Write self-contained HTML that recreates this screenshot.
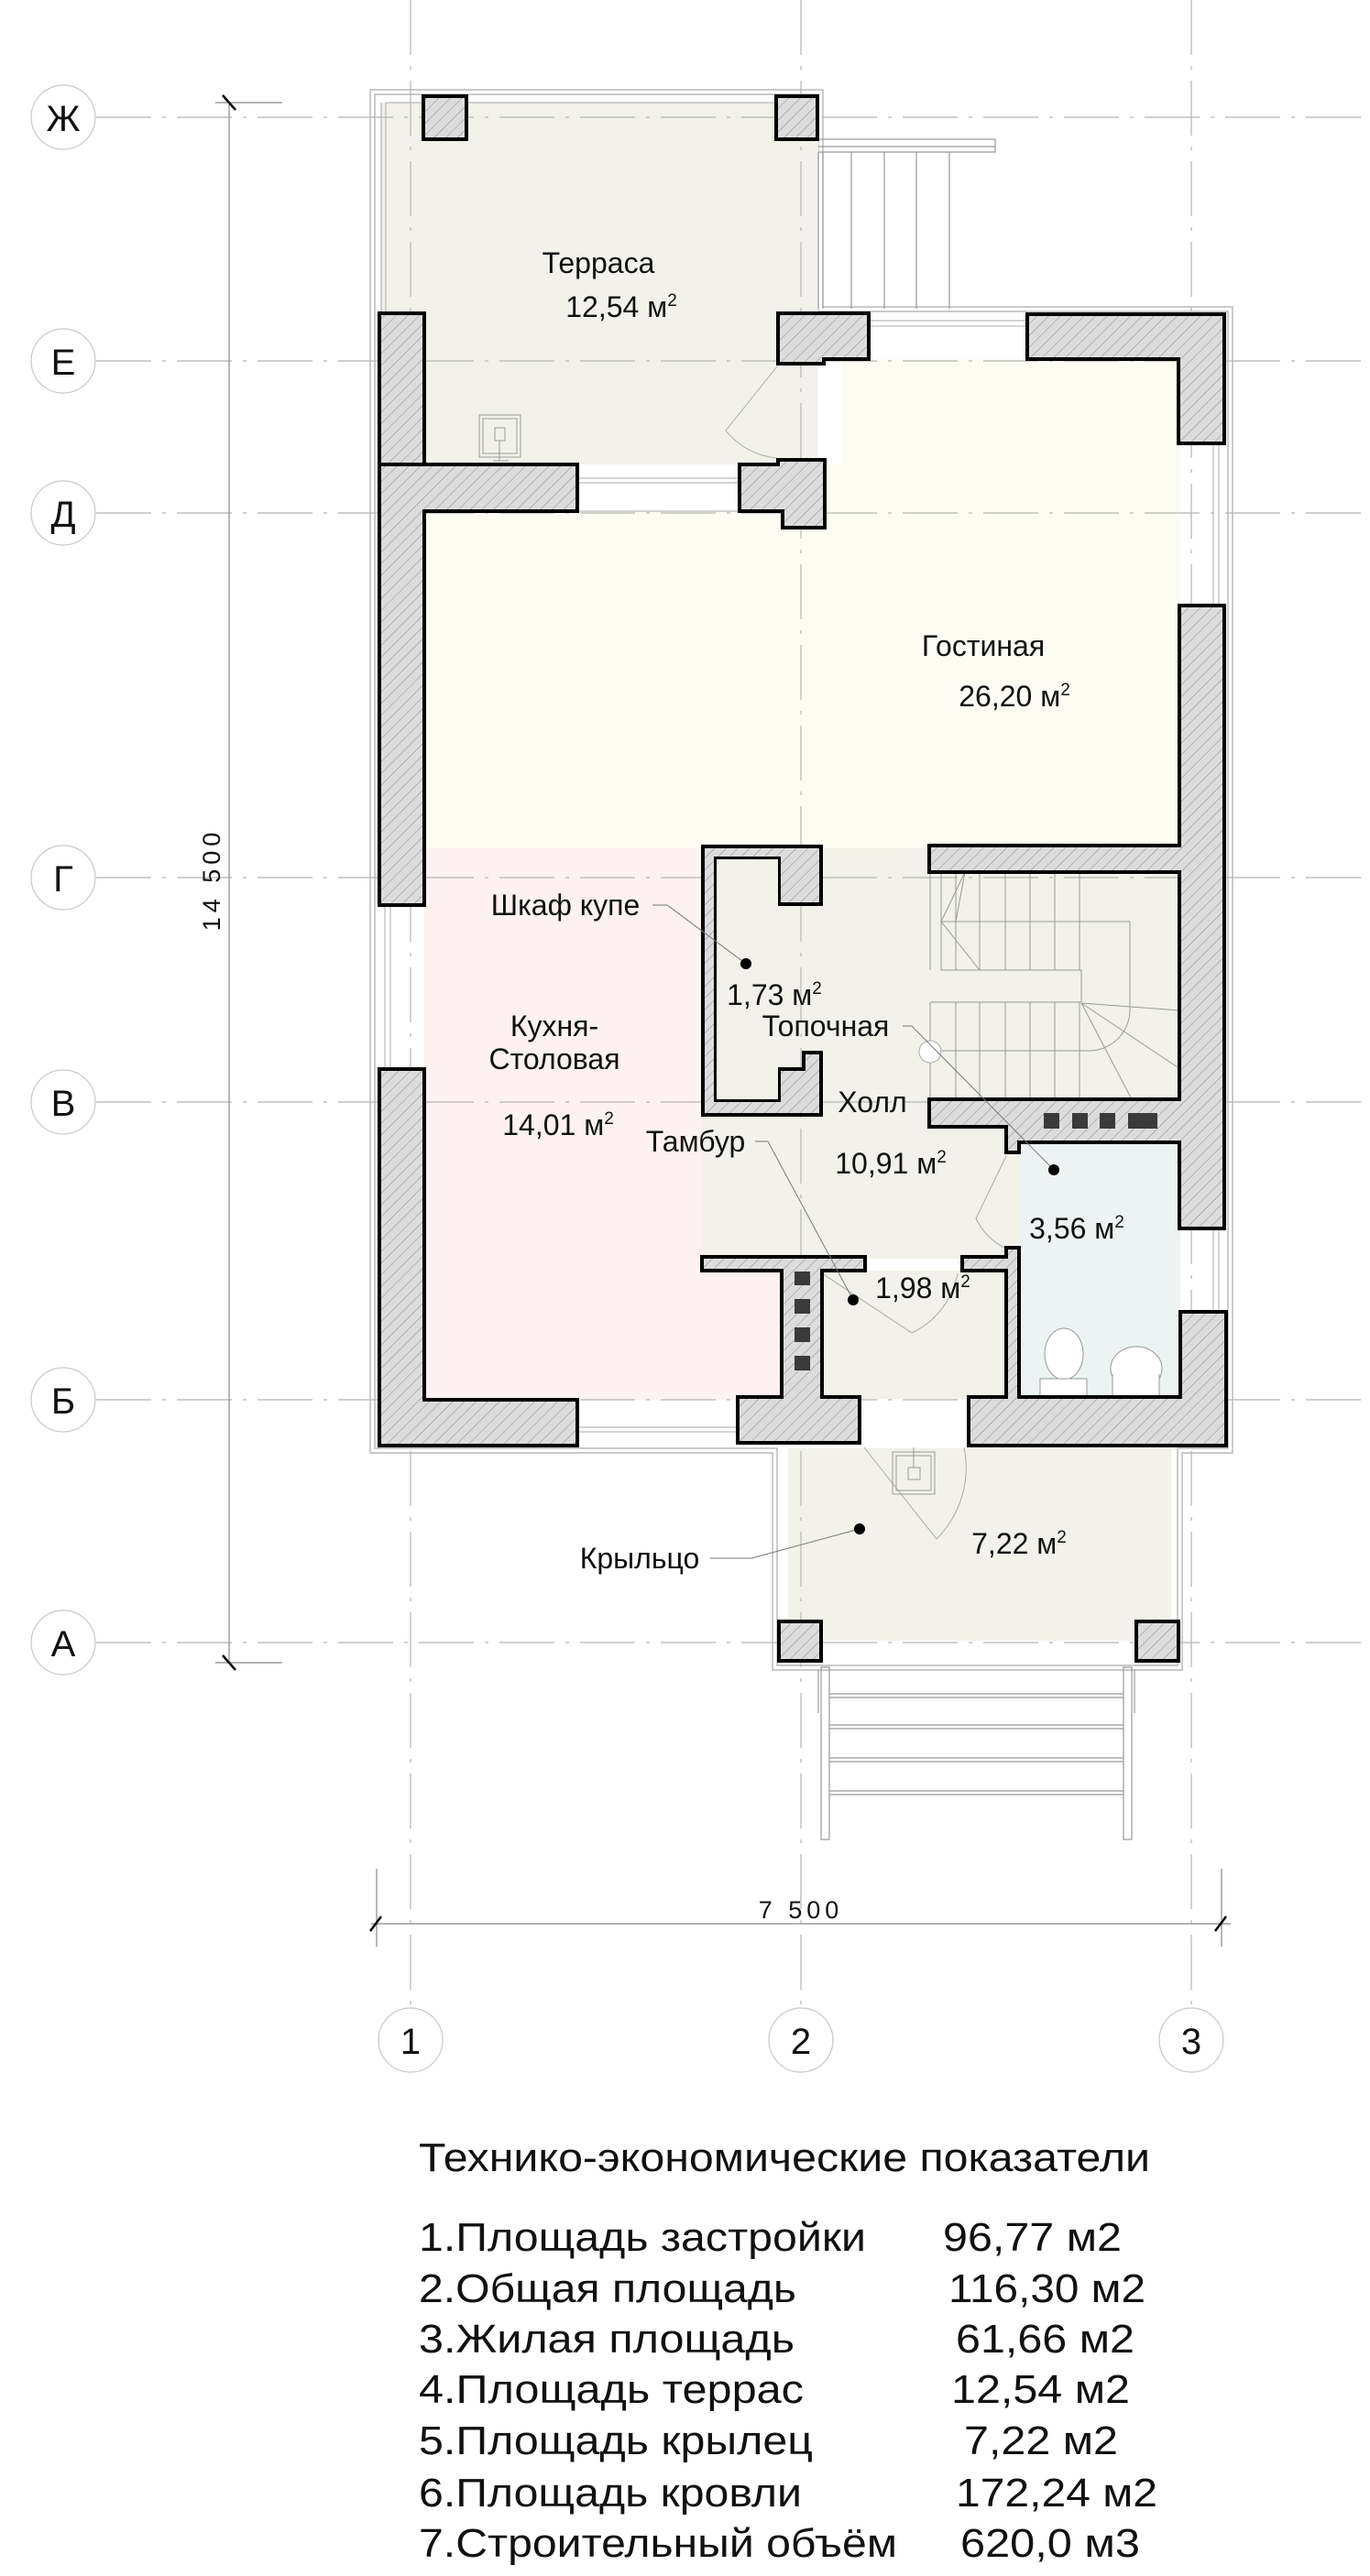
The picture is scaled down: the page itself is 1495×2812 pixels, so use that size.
<!DOCTYPE html>
<html><head><meta charset="utf-8"><style>
html,body{margin:0;padding:0;background:#fff}
svg{display:block}
text{font-family:"Liberation Sans",Arial,sans-serif;fill:#111}
</style></head><body>
<svg width="1495" height="2812" viewBox="0 0 1495 2812" xmlns="http://www.w3.org/2000/svg">
<defs>
<pattern id="h" width="9" height="9" patternUnits="userSpaceOnUse" patternTransform="rotate(45)">
<rect width="9" height="9" fill="#dcdcdc"/><line x1="0" y1="0" x2="0" y2="9" stroke="#8a8a8a" stroke-width="1"/>
</pattern>
</defs>
<rect width="1495" height="2812" fill="#fff"/>

<g fill="none" stroke="#aaa" stroke-width="1.2">
<path d="M404 98 H898 V335 H1345 V1586 H1290 V1823 H843 V1586 H404 Z"/>
<path d="M409 103 H893 V340 H1340 V1581 H1285 V1818 H848 V1581 H409 Z"/>
</g>

<rect x="415" y="112" width="478" height="395" fill="#f2f2eb"/>
<rect x="463" y="558" width="435" height="368" fill="#fdfcf2"/>
<rect x="898" y="392" width="390" height="534" fill="#fdfcf2"/>
<rect x="463" y="926" width="390" height="602" fill="#fdf1f1"/>
<rect x="767" y="926" width="521" height="448" fill="#f2f2ea"/>
<rect x="897" y="1387" width="201" height="140" fill="#f2f2ea"/>
<rect x="1112" y="1247" width="176" height="280" fill="#edf3f3"/>
<rect x="860" y="1581" width="418" height="210" fill="#f2f2ea"/>
<rect x="898" y="392" width="20" height="115" fill="#fff"/>

<g fill="none" stroke="#999" stroke-width="1.2">
<path d="M893 152 H1086 V166 H893"/>
<path d="M893 160 H1086"/>
<path d="M929 166 V337 M965 166 V337 M1000 166 V337 M1036 166 V337"/>
<path d="M893 166 V337 M898 166 V337"/>
</g>
<g fill="none" stroke="#999" stroke-width="1.2">
<rect x="896" y="1820" width="9" height="188"/>
<rect x="1226" y="1820" width="9" height="188"/>
<path d="M905 1849 H1226 M905 1853 H1226 M905 1883 H1226 M905 1887 H1226 M905 1919 H1226 M905 1923 H1226 M905 1955 H1226 M905 1959 H1226"/>
<path d="M893 1823 V1870 M1238 1823 V1870"/>
</g>

<g stroke="#b5b5b5" stroke-width="1.2" stroke-dasharray="60 12 4 12" fill="none">
<path d="M105 128 H1495 M105 394 H1495 M105 560 H1495 M105 958 H1495 M105 1203 H1495 M105 1528 H1495 M105 1793 H1495"/>
<path d="M448 0 V2190 M874 0 V2190 M1300 0 V2190"/>
</g>

<g fill="none" stroke="#9a9a9a" stroke-width="1">
<path d="M1015 952 V1059 M1027 952 V1059 H1180 V1094 M1043 952 V1059 M1069 952 V1059 M1097 952 V1059 M1124 952 V1059 M1151 952 V1059 M1178 952 V1059"/>
<path d="M1027 1006 H1233 V1100 M1027 1006 L1053 952 M1027 1006 L1069 1059 M1043 1006 L1053 952"/>
<path d="M1015 1094 H1180 M1015 1094 V1200 M1043 1094 V1200 M1069 1094 V1200 M1097 1094 V1200 M1124 1094 V1200 M1151 1094 V1200 M1178 1094 V1200"/>
<path d="M1027 1147 H1190 A45 45 0 0 0 1233 1100"/>
<path d="M1180 1095 L1287 1103 M1180 1095 L1285 1165 M1180 1095 L1235 1200"/>
</g>
<circle cx="1015" cy="1148" r="12" fill="#fff" stroke="#aaa"/>

<g fill="none" stroke="#aaa" stroke-width="1">
<path d="M848 400 L792 470 A80 80 0 0 0 848 500"/>
<path d="M1098 1262 L1065 1330 A70 70 0 0 0 1098 1363"/>
<path d="M897 1390 L995 1455 A90 90 0 0 0 1045 1390"/>
<path d="M943 1580 L1022 1680 A110 110 0 0 0 1052 1580"/>
</g>
<g fill="none" stroke="#999" stroke-width="1">
<rect x="523" y="453" width="45" height="46"/><rect x="527" y="457" width="37" height="38"/>
<rect x="540" y="467" width="11" height="14"/><path d="M545 481 V503 M538 503 H555"/>
<rect x="974" y="1585" width="46" height="46"/><rect x="978" y="1589" width="38" height="38"/>
<rect x="991" y="1602" width="13" height="13"/><path d="M997 1580 V1602"/>
<ellipse cx="1161" cy="1478" rx="21" ry="28" fill="#fff"/>
<path d="M1135 1505 H1186 V1524 H1135 Z" fill="#fff"/>
<ellipse cx="1240" cy="1494" rx="28" ry="24" fill="#fff"/>
<path d="M1214 1500 V1525 H1265 V1500" fill="#fff"/>
</g>

<g stroke="#aaa" stroke-width="1" fill="none">
<path d="M630 522 H807 M630 527 H807 M630 558 H807"/>
<path d="M948 350 H1121 M948 356 H1121"/>
<path d="M1324 484 V661 M1330 484 V661"/>
<path d="M1324 1341 V1432 M1330 1341 V1432"/>
<path d="M420 988 V1167 M426 988 V1167"/>
<path d="M630 1558 H805 M630 1563 H805"/>
<path d="M416 112 V342 M421 112 V342 M416 103 H893 M421 112 H893"/>
</g>

<g fill="url(#h)" stroke="#000" stroke-width="4" stroke-linejoin="miter">
<rect x="462" y="105" width="47" height="47"/>
<rect x="847" y="105" width="45" height="47"/>
<rect x="414" y="342" width="49" height="165"/>
<path d="M414 507 H630 V558 H463 V988 H414 Z"/>
<path d="M849 342 H948 V392 H899 V397 H849 Z"/>
<path d="M807 507 H849 V502 H900 V576 H854 V558 H807 Z"/>
<path d="M1121 343 H1336 V484 H1286 V392 H1121 Z"/>
<path d="M1014 923 H1287 V661 H1336 V1341 H1287 V1247 H1112 V1258 H1098 V1230 H1014 V1200 H1287 V952 H1014 Z"/>
<path d="M767 924 H896 V987 H850 V937 H781 V1201 H850 V1167 H877 V1149 H896 V1217 H767 Z"/>
<path d="M414 1167 H463 V1528 H630 V1578 H414 Z"/>
<path d="M766 1372 H944 V1387 H897 V1525 H938 V1575 H805 V1525 H853 V1387 H766 Z"/>
<path d="M1050 1372 H1098 V1362 H1112 V1525 H1288 V1432 H1338 V1578 H1057 V1525 H1098 V1387 H1050 Z"/>
<rect x="850" y="1770" width="46" height="43"/>
<rect x="1240" y="1770" width="46" height="43"/>
</g>
<rect x="782" y="938" width="67" height="262" fill="#f2f2ea"/>
<g fill="#3a3a3a">
<rect x="867" y="1388" width="17" height="15"/><rect x="867" y="1418" width="17" height="16"/>
<rect x="867" y="1449" width="17" height="16"/><rect x="867" y="1480" width="17" height="16"/>
<rect x="1139" y="1215" width="17" height="17"/><rect x="1170" y="1215" width="17" height="17"/>
<rect x="1200" y="1215" width="17" height="17"/><rect x="1231" y="1215" width="32" height="17"/>
</g>

<g stroke="#777" stroke-width="1" fill="none">
<path d="M712 988 H728 L814 1052"/>
<path d="M985 1120 H995 L1150 1277"/>
<path d="M824 1246 H838 L931 1419"/>
<path d="M775 1701 H820 L938 1669"/>
</g>
<g fill="#000">
<circle cx="814" cy="1052" r="6"/><circle cx="1150" cy="1277" r="6"/>
<circle cx="931" cy="1419" r="6"/><circle cx="938" cy="1669" r="6"/>
</g>

<g font-size="32" text-anchor="middle">
<text x="653" y="298">Терраса</text>
<text x="678" y="346">12,54 м<tspan font-size="19" dy="-12">2</tspan></text>
<text x="1073" y="716">Гостиная</text>
<text x="1107" y="771">26,20 м<tspan font-size="19" dy="-12">2</tspan></text>
<text x="617" y="999">Шкаф купе</text>
<text x="845" y="1097">1,73 м<tspan font-size="19" dy="-12">2</tspan></text>
<text x="605" y="1131">Кухня-</text>
<text x="605" y="1167">Столовая</text>
<text x="609" y="1239">14,01 м<tspan font-size="19" dy="-12">2</tspan></text>
<text x="901" y="1131">Топочная</text>
<text x="952" y="1214">Холл</text>
<text x="972" y="1281">10,91 м<tspan font-size="19" dy="-12">2</tspan></text>
<text x="759" y="1257">Тамбур</text>
<text x="1007" y="1417">1,98 м<tspan font-size="19" dy="-12">2</tspan></text>
<text x="1175" y="1352">3,56 м<tspan font-size="19" dy="-12">2</tspan></text>
<text x="698" y="1712">Крыльцо</text>
<text x="1112" y="1696">7,22 м<tspan font-size="19" dy="-12">2</tspan></text>
</g>

<g fill="#fff" stroke="#c8c8c8" stroke-width="1.2">
<circle cx="69" cy="128" r="35"/><circle cx="69" cy="394" r="35"/><circle cx="69" cy="560" r="35"/>
<circle cx="69" cy="958" r="35"/><circle cx="69" cy="1203" r="35"/><circle cx="69" cy="1528" r="35"/>
<circle cx="69" cy="1793" r="35"/>
<circle cx="448" cy="2227" r="35"/><circle cx="874" cy="2227" r="35"/><circle cx="1300" cy="2227" r="35"/>
</g>
<g font-size="40" text-anchor="middle">
<text x="69" y="143">Ж</text><text x="69" y="409">Е</text><text x="69" y="575">Д</text>
<text x="69" y="973">Г</text><text x="69" y="1218">В</text><text x="69" y="1543">Б</text><text x="69" y="1808">А</text>
<text x="448" y="2242">1</text><text x="874" y="2242">2</text><text x="1300" y="2242">3</text>
</g>

<g stroke="#888" stroke-width="1.2" fill="none">
<path d="M250 112 V1815 M235 112 H308 M235 1815 H308"/>
<path d="M405 2100 H1343 M411 2040 V2125 M1333 2040 V2125"/>
</g>
<g stroke="#000" stroke-width="2.5">
<path d="M243 104 L257 120 M243 1807 L257 1823"/>
<path d="M404 2108 L416 2092 M1326 2108 L1338 2092"/>
</g>
<text x="0" y="0" font-size="27" text-anchor="middle" transform="translate(240 960) rotate(-90)" letter-spacing="5">14 500</text>
<text x="874" y="2094" font-size="27" text-anchor="middle" letter-spacing="5">7 500</text>

<g font-size="44">
<text x="457" y="2370" textLength="798" lengthAdjust="spacingAndGlyphs">Технико-экономические показатели</text>
<text x="457" y="2457" textLength="488" lengthAdjust="spacingAndGlyphs">1.Площадь застройки</text><text x="1029" y="2457" textLength="195" lengthAdjust="spacingAndGlyphs">96,77 м2</text>
<text x="457" y="2513" textLength="412" lengthAdjust="spacingAndGlyphs">2.Общая площадь</text><text x="1035" y="2513" textLength="215" lengthAdjust="spacingAndGlyphs">116,30 м2</text>
<text x="457" y="2568" textLength="410" lengthAdjust="spacingAndGlyphs">3.Жилая площадь</text><text x="1043" y="2568" textLength="195" lengthAdjust="spacingAndGlyphs">61,66 м2</text>
<text x="457" y="2623" textLength="420" lengthAdjust="spacingAndGlyphs">4.Площадь террас</text><text x="1038" y="2623" textLength="195" lengthAdjust="spacingAndGlyphs">12,54 м2</text>
<text x="457" y="2679" textLength="430" lengthAdjust="spacingAndGlyphs">5.Площадь крылец</text><text x="1052" y="2679" textLength="168" lengthAdjust="spacingAndGlyphs">7,22 м2</text>
<text x="457" y="2736" textLength="418" lengthAdjust="spacingAndGlyphs">6.Площадь кровли</text><text x="1043" y="2736" textLength="220" lengthAdjust="spacingAndGlyphs">172,24 м2</text>
<text x="457" y="2791" textLength="522" lengthAdjust="spacingAndGlyphs">7.Строительный объём</text><text x="1048" y="2791" textLength="196" lengthAdjust="spacingAndGlyphs">620,0 м3</text>
</g>
</svg>
</body></html>
